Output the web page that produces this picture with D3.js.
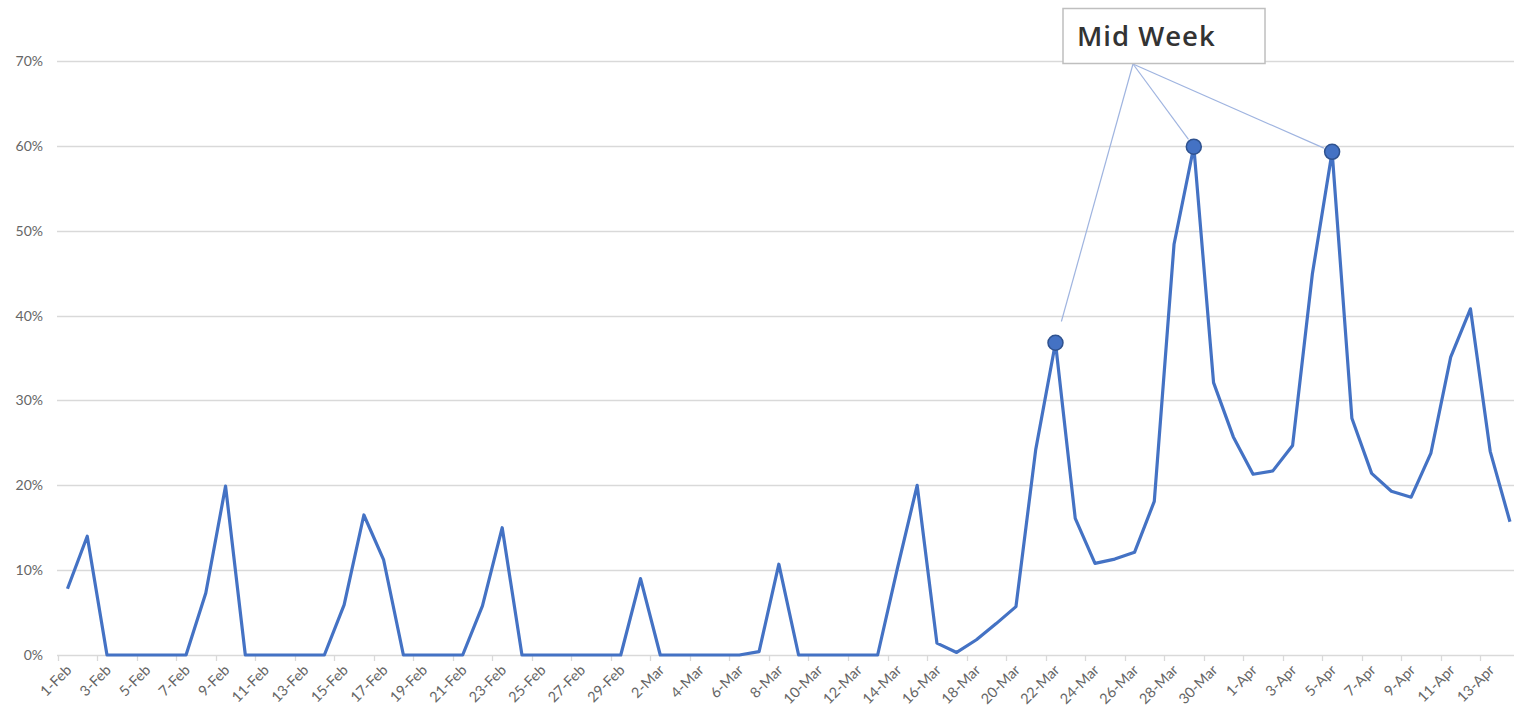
<!DOCTYPE html>
<html>
<head>
<meta charset="utf-8">
<script src="https://cdn.jsdelivr.net/npm/d3@7"></script>
<style>
  html, body { margin: 0; padding: 0; background: #ffffff; }
  svg { display: block; }
</style>
</head>
<body>
<svg id="chart" width="1514" height="717"></svg>
<script>
// Daily categories, 1 Feb – 14 Apr
const dates = [
  "1-Feb","2-Feb","3-Feb","4-Feb","5-Feb","6-Feb","7-Feb","8-Feb","9-Feb","10-Feb",
  "11-Feb","12-Feb","13-Feb","14-Feb","15-Feb","16-Feb","17-Feb","18-Feb","19-Feb","20-Feb",
  "21-Feb","22-Feb","23-Feb","24-Feb","25-Feb","26-Feb","27-Feb","28-Feb","29-Feb",
  "1-Mar","2-Mar","3-Mar","4-Mar","5-Mar","6-Mar","7-Mar","8-Mar","9-Mar","10-Mar",
  "11-Mar","12-Mar","13-Mar","14-Mar","15-Mar","16-Mar","17-Mar","18-Mar","19-Mar","20-Mar",
  "21-Mar","22-Mar","23-Mar","24-Mar","25-Mar","26-Mar","27-Mar","28-Mar","29-Mar","30-Mar","31-Mar",
  "1-Apr","2-Apr","3-Apr","4-Apr","5-Apr","6-Apr","7-Apr","8-Apr","9-Apr","10-Apr",
  "11-Apr","12-Apr","13-Apr","14-Apr"
];

// Share per day (fraction)
const values = [
  0.078, 0.140, 0, 0, 0, 0, 0, 0.073, 0.199, 0,
  0, 0, 0, 0, 0.059, 0.165, 0.112, 0, 0, 0,
  0, 0.058, 0.150, 0, 0, 0, 0, 0, 0,
  0.090, 0, 0, 0, 0, 0, 0.004, 0.107, 0, 0,
  0, 0, 0, 0.102, 0.200, 0.014, 0.003, 0.018, 0.037, 0.057,
  0.242, 0.368, 0.161, 0.108, 0.113, 0.121, 0.181, 0.484, 0.599, 0.321, 0.257,
  0.213, 0.217, 0.247, 0.449, 0.593, 0.279, 0.214, 0.193, 0.186, 0.238,
  0.351, 0.408, 0.240, 0.157
];

// Axis ticks
const yTicks = [0, 0.1, 0.2, 0.3, 0.4, 0.5, 0.6, 0.7];
const xTickLabels = dates.filter((d, i) => i % 2 === 0);

// Highlighted mid-week points and their callout
const highlightDates = ["22-Mar", "29-Mar", "5-Apr"];
const calloutText = "Mid Week";

const svg = d3.select("#chart");
const x = d3.scaleBand().domain(dates).range([57.6, 57.6 + 19.76 * dates.length]).paddingInner(0).paddingOuter(0);
const y = d3.scaleLinear().domain([0, 0.7]).range([655, 61]);
const cx = d => x(d) + x.bandwidth() / 2;
const labelFont = "Lato, 'Open Sans', sans-serif";

// Horizontal gridlines
svg.append("g")
  .selectAll("line")
  .data(yTicks)
  .join("line")
  .attr("x1", 57).attr("x2", 1514)
  .attr("y1", d => Math.round(y(d)) + 0.5).attr("y2", d => Math.round(y(d)) + 0.5)
  .attr("stroke", "#d9d9d9").attr("stroke-width", 1.3);

// Y axis labels
svg.append("g")
  .selectAll("text")
  .data(yTicks)
  .join("text")
  .attr("x", 43).attr("y", d => y(d) + 5)
  .attr("text-anchor", "end")
  .attr("font-family", labelFont)
  .attr("font-size", 14)
  .attr("fill", "#666666")
  .text(d3.format(".0%"));

// X tick marks at category boundaries, every two days
svg.append("g")
  .selectAll("line")
  .data(xTickLabels)
  .join("line")
  .attr("x1", d => Math.round(x(d)) + 0.5).attr("x2", d => Math.round(x(d)) + 0.5)
  .attr("y1", 655).attr("y2", 661)
  .attr("stroke", "#d9d9d9").attr("stroke-width", 1.3);

// X labels, rotated
svg.append("g")
  .selectAll("text")
  .data(xTickLabels)
  .join("text")
  .attr("transform", d => `translate(${cx(d) + 5},${671}) rotate(-45)`)
  .attr("text-anchor", "end")
  .attr("font-family", labelFont)
  .attr("font-size", 14.5)
  .attr("fill", "#666666")
  .text(d => d);

// Series line
const line = d3.line().x((d, i) => cx(dates[i])).y(d => y(d));
svg.append("path")
  .datum(values)
  .attr("d", line)
  .attr("fill", "none")
  .attr("stroke", "#4472c4")
  .attr("stroke-width", 3.2)
  .attr("stroke-linejoin", "round");

// Callout box
const box = { x: 1063, y: 8.5, w: 202, h: 55 };
const anchor = [1133, 64];

// Leader lines to the highlighted points
const gaps = [22, 9, 9];
svg.append("g")
  .selectAll("line")
  .data(highlightDates)
  .join("line")
  .each(function (d, i) {
    const px = cx(d), py = y(values[dates.indexOf(d)]);
    const dx = px - anchor[0], dy = py - anchor[1];
    const len = Math.hypot(dx, dy);
    const k = (len - gaps[i]) / len;
    d3.select(this)
      .attr("x1", anchor[0]).attr("y1", anchor[1])
      .attr("x2", anchor[0] + dx * k).attr("y2", anchor[1] + dy * k);
  })
  .attr("stroke", "#9fb4e0").attr("stroke-width", 1.2);

svg.append("rect")
  .attr("x", box.x).attr("y", box.y).attr("width", box.w).attr("height", box.h)
  .attr("fill", "#ffffff").attr("stroke", "#bfbfbf").attr("stroke-width", 1.5);

svg.append("text")
  .attr("x", 1077).attr("y", 46)
  .attr("font-family", "'Open Sans', Lato, sans-serif")
  .attr("font-weight", 600)
  .attr("font-size", 27.5)
  .attr("letter-spacing", 1)
  .attr("fill", "#333333")
  .text(calloutText);

// Markers
svg.append("g")
  .selectAll("circle")
  .data(highlightDates)
  .join("circle")
  .attr("cx", d => cx(d))
  .attr("cy", d => y(values[dates.indexOf(d)]))
  .attr("r", 7.5)
  .attr("fill", "#4472c4")
  .attr("stroke", "#2f528f")
  .attr("stroke-width", 1.5);
</script>
</body>
</html>
